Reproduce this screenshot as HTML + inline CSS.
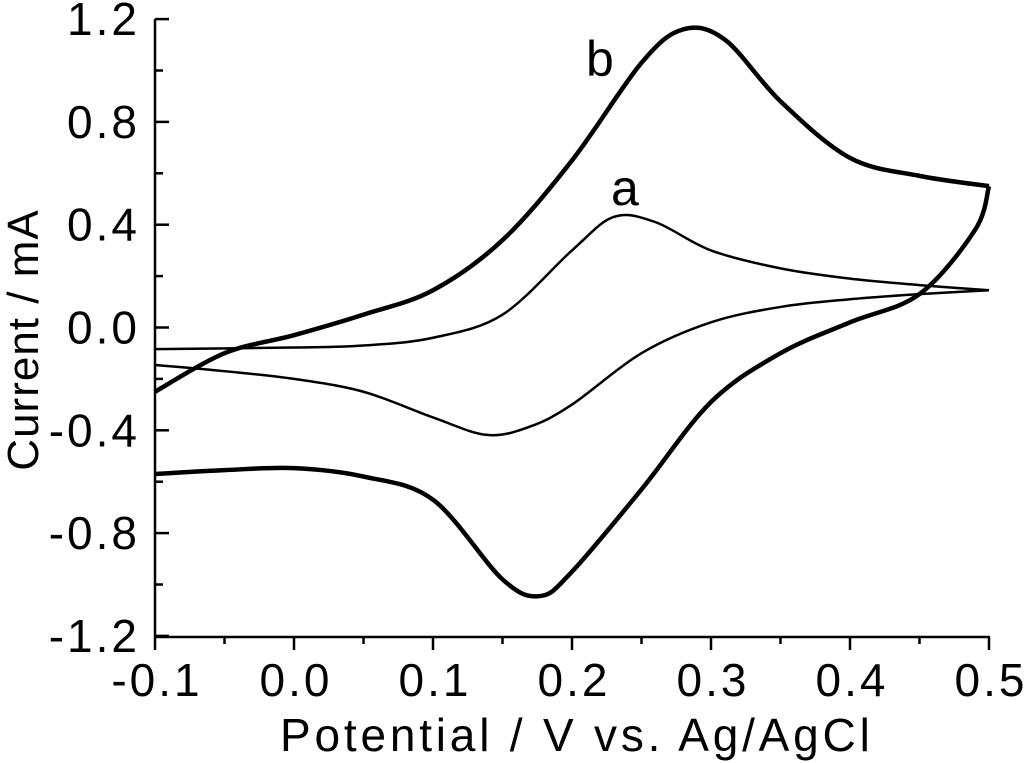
<!DOCTYPE html>
<html><head><meta charset="utf-8"><style>
body{margin:0;background:#fff}
svg{display:block;font-family:"Liberation Sans",Arial,sans-serif}
</style></head><body>
<svg id="chart" width="1024" height="763" viewBox="0 0 1024 763">
<g id="axes"></g>
<g id="curves"></g>
<text x="280" y="751" font-size="46" letter-spacing="3.8">Potential / V vs. Ag/AgCl</text>
<text transform="translate(38,340) rotate(-90)" text-anchor="middle" font-size="44" letter-spacing="1">Current / mA</text>
<text x="586" y="76" font-size="50">b</text>
<text x="611" y="205" font-size="50">a</text>
</svg>
<script>
const xTicks=[-0.1,0.0,0.1,0.2,0.3,0.4,0.5];
const yTicks=[-1.2,-0.8,-0.4,0.0,0.4,0.8,1.2];
const aFwdE=[-0.1,0.0,0.05,0.1,0.15,0.2,0.23,0.26,0.3,0.35,0.4,0.45,0.5];
const aFwdI=[-0.084,-0.078,-0.07,-0.04,0.05,0.3,0.43,0.41,0.3,0.23,0.19,0.165,0.145];
const aRevE=[0.5,0.45,0.4,0.35,0.3,0.25,0.2,0.17,0.139,0.1,0.05,0.0,-0.05,-0.1];
const aRevI=[0.145,0.13,0.11,0.08,0.02,-0.1,-0.3,-0.385,-0.418,-0.35,-0.25,-0.2,-0.17,-0.146];
const bFwdE=[-0.1,-0.05,0.0,0.05,0.1,0.15,0.2,0.25,0.28,0.31,0.35,0.4,0.45,0.5];
const bFwdI=[-0.25,-0.1,-0.03,0.05,0.145,0.34,0.65,1.03,1.16,1.12,0.88,0.66,0.59,0.55];
const bRevE=[0.5,0.49,0.45,0.4,0.35,0.3,0.25,0.2,0.177,0.15,0.1,0.05,0.0,-0.05,-0.1];
const bRevI=[0.55,0.38,0.13,0.02,-0.1,-0.29,-0.63,-0.95,-1.045,-0.98,-0.67,-0.58,-0.547,-0.555,-0.57];
const X=v=>155+(v+0.1)*1390, Y=v=>327.5-v*257;
const NS='http://www.w3.org/2000/svg';
const axes=document.getElementById('axes'), curves=document.getElementById('curves');
function mk(tag,attrs,parent){const e=document.createElementNS(NS,tag);for(const k in attrs)e.setAttribute(k,attrs[k]);parent.appendChild(e);return e;}
const yl=mk('line',{x1:155,y1:19,x2:155,y2:637,stroke:'#000','stroke-width':2.5},axes);


const xl=mk('line',{x1:154,y1:637,x2:990,y2:637,stroke:'#000','stroke-width':2.5},axes);


xTicks.forEach((t,i)=>{
  const x=X(t);
  const tk=mk('line',{x1:x,y1:637,x2:x,y2:650,stroke:'#000','stroke-width':2.5},axes);
  
  
  if(i<xTicks.length-1){const m=mk('line',{x1:X(t+0.05),y1:637,x2:X(t+0.05),y2:644,stroke:'#000','stroke-width':2.5},axes);
  
  }
  const tx=mk('text',{x:x+2,y:696,'font-size':46,'text-anchor':'middle','letter-spacing':3},axes);
  tx.textContent=t.toFixed(1);
  
  
});
yTicks.forEach((t,i)=>{
  const y=Y(t);
  const tk=mk('line',{x1:155,y1:y,x2:169,y2:y,stroke:'#000','stroke-width':2.5},axes);
  
  
  if(i<yTicks.length-1){const m=mk('line',{x1:155,y1:Y(t+0.2),x2:163,y2:Y(t+0.2),stroke:'#000','stroke-width':2.5},axes);
  
  }
  const tx=mk('text',{x:140,y:y+16,'font-size':46,'text-anchor':'end','letter-spacing':3},axes);
  tx.textContent=t.toFixed(1);
  
  
});
function smooth(E,I){
  const p=E.map((e,i)=>[X(e),Y(I[i])]);
  let d='M'+p[0][0]+','+p[0][1];
  for(let i=0;i<p.length-1;i++){
    const p0=p[Math.max(i-1,0)],p1=p[i],p2=p[i+1],p3=p[Math.min(i+2,p.length-1)];
    const c1=[p1[0]+(p2[0]-p0[0])/6,p1[1]+(p2[1]-p0[1])/6];
    const c2=[p2[0]-(p3[0]-p1[0])/6,p2[1]-(p3[1]-p1[1])/6];
    d+=`C${c1[0]},${c1[1]} ${c2[0]},${c2[1]} ${p2[0]},${p2[1]}`;
  }
  return d;
}
const a1=mk('path',{d:smooth(aFwdE,aFwdI),fill:'none',stroke:'#000','stroke-width':2.5},curves);


const a2=mk('path',{d:smooth(aRevE,aRevI),fill:'none',stroke:'#000','stroke-width':2.5},curves);


const b1=mk('path',{d:smooth(bFwdE,bFwdI),fill:'none',stroke:'#000','stroke-width':4.5},curves);


const b2=mk('path',{d:smooth(bRevE,bRevI),fill:'none',stroke:'#000','stroke-width':4.5},curves);


</script>
</body></html>
